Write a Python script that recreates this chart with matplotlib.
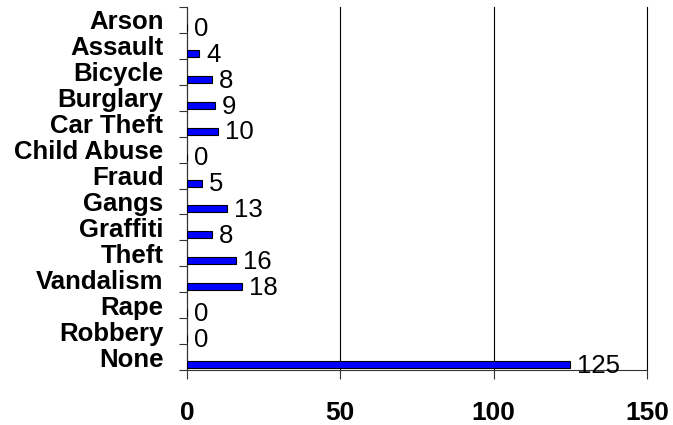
import matplotlib
matplotlib.use("Agg")
import matplotlib.pyplot as plt
import numpy as np

categories = ["Arson", "Assault", "Bicycle", "Burglary", "Car Theft", "Child Abuse",
              "Fraud", "Gangs", "Graffiti", "Theft", "Vandalism", "Rape", "Robbery", "None"]
values = [0, 4, 8, 9, 10, 0, 5, 13, 8, 16, 18, 0, 0, 125]
xticks = [0, 50, 100, 150]

plt.rcParams['font.family'] = ['Liberation Sans', 'DejaVu Sans']

fig = plt.figure(figsize=(6.73, 4.25), dpi=100)
ax = fig.add_axes([187/673, 1-370/425, 460/673, 363/425])

pos = np.arange(len(categories))
ax.barh(pos + 0.29, values, height=0.27, color='#0000FF', edgecolor='black', linewidth=0.8, zorder=3)

for p, v in zip(pos, values):
    ax.annotate(str(v), xy=(v, p + 0.34), xytext=(5, 0), textcoords='offset points',
                ha='left', va='center', fontsize=18.5, color='black', zorder=4)

ax.set_xlim(0, 150)
ax.set_ylim(len(categories) - 0.5, -0.5)

ax.set_yticks(pos)
ax.set_yticklabels(categories, fontsize=18.5, fontweight='bold')
ax.set_yticks(np.arange(len(categories) + 1) - 0.5, minor=True)
ax.tick_params(axis='y', which='major', length=0, pad=17)
ax.tick_params(axis='y', which='minor', length=5.5, width=0.8, direction='out', color='#333333')

ax.set_xticks(xticks)
ax.set_xticklabels([str(t) for t in xticks], fontsize=19, fontweight='bold')
ax.tick_params(axis='x', which='major', length=6.5, width=0.8, pad=16, color='#333333')

ax.xaxis.grid(True, color='black', linewidth=0.8, zorder=0)
for gl in ax.get_xgridlines():
    gl.set_clip_on(False)
ax.set_axisbelow(True)

for s in ['top', 'right']:
    ax.spines[s].set_visible(False)
ax.spines['left'].set_color('#333333')
ax.spines['bottom'].set_color('#333333')
ax.spines['left'].set_linewidth(0.8)
ax.spines['bottom'].set_linewidth(0.8)

fig.savefig("out.png", dpi=100)
